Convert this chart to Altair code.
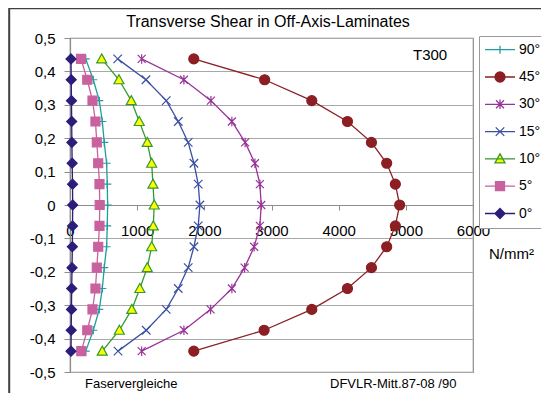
import altair as alt
import pandas as pd

# ---------------- data ----------------
y_levels = [0.4375, 0.375, 0.3125, 0.25, 0.1875, 0.125, 0.0625, 0.0,
            -0.0625, -0.125, -0.1875, -0.25, -0.3125, -0.375, -0.4375]

series_names = ["90°", "45°", "30°", "15°", "10°", "5°", "0°"]

s90 = [234, 347, 436, 481, 510, 545, 555, 560, 555, 545, 510, 481, 436, 347, 234]
s45 = [1843, 2898, 3600, 4131, 4488, 4715, 4844, 4908, 4844, 4715, 4488, 4131, 3600, 2890, 1843]
s30 = [1067, 1696, 2098, 2410, 2608, 2753, 2827, 2847, 2827, 2742, 2600, 2410, 2093, 1696, 1067]
s15 = [710, 1131, 1433, 1612, 1760, 1845, 1909, 1934, 1909, 1845, 1760, 1612, 1433, 1135, 715]
s10 = [472, 729, 912, 1031, 1150, 1216, 1235, 1254, 1240, 1216, 1150, 1040, 920, 735, 480]
s5 = [164, 257, 335, 379, 399, 420, 439, 442, 439, 420, 399, 379, 335, 257, 168]
s0 = [15, 18, 22, 25, 28, 32, 38, 40, 38, 35, 30, 25, 22, 18, 15]

series_values = [s90, s45, s30, s15, s10, s5, s0]

x_ticks = [0, 1000, 2000, 3000, 4000, 5000, 6000]
y_ticks = [-0.5, -0.4, -0.3, -0.2, -0.1, 0.0, 0.1, 0.2, 0.3, 0.4, 0.5]

# ---------------- styles ----------------
line_colors = ["#1e9e9e", "#8b1f24", "#993399", "#3a4fa3", "#339933", "#c9619f", "#2b1d7a"]
fill_colors = ["transparent", "#8b1f24", "transparent", "transparent", "#ffff00", "#c9619f", "#2b1d7a"]

def poly_path(polys, k=1.0, prefix=""):
    out = prefix
    for pts, closed in polys:
        out += "M" + "L".join(f"{x * k:.3f},{y * k:.3f}" for x, y in pts)
        if closed:
            out += "Z"
    return out

def circle_path(r, prefix=""):
    return prefix + f"M{r:.3f},0A{r:.3f},{r:.3f},0,1,1,{-r:.3f},0A{r:.3f},{r:.3f},0,1,1,{r:.3f},0Z"

marker_defs = [
    ("poly", [([(-0.8, 0), (0.8, 0)], False), ([(0, -0.8), (0, 0.8)], False)]),       # plus
    ("circle", 1.0),                                                                    # circle
    ("poly", [([(-0.8, -0.8), (0.8, 0.8)], False), ([(-0.8, 0.8), (0.8, -0.8)], False),
              ([(0, -0.95), (0, 0.95)], False)]),                                      # asterisk
    ("poly", [([(-0.85, -0.85), (0.85, 0.85)], False), ([(-0.85, 0.85), (0.85, -0.85)], False)]),  # x
    ("poly", [([(0, -1.0), (1.0, 0.8), (-1.0, 0.8)], True)]),                           # triangle
    ("poly", [([(-0.9, -0.9), (0.9, -0.9), (0.9, 0.9), (-0.9, 0.9)], True)]),           # square
    ("poly", [([(0, -1.0), (1.0, 0), (0, 1.0), (-1.0, 0)], True)]),                     # diamond
]

MARKER_SIZE = 100          # unit = 5 px
LEGEND_SIZE = 900          # unit = 15 px
k_leg = 5.0 / 15.0

plot_shapes, legend_shapes = [], []
for kind, spec in marker_defs:
    if kind == "circle":
        plot_shapes.append(circle_path(spec))
        legend_shapes.append(circle_path(spec * k_leg, prefix="M-1,0L1,0"))
    else:
        plot_shapes.append(poly_path(spec))
        legend_shapes.append(poly_path(spec, k_leg, prefix="M-1,0L1,0"))

# ---------------- table ----------------
rows = []
for name, vals in zip(series_names, series_values):
    for i, (v, yv) in enumerate(zip(vals, y_levels)):
        rows.append({"series": name, "x": v, "y": yv, "idx": i})
df = pd.DataFrame(rows)

FONT = "Liberation Sans"
W, H = 403, 334

x_enc = alt.X("x:Q", scale=alt.Scale(domain=[0, 6000], nice=False, zero=False),
              axis=alt.Axis(values=x_ticks, format="d", offset=-H / 2, tickSize=5,
                            labelPadding=13, grid=False, labelFlush=False, labelOverlap=False,
                            title="N/mm²", titleX=441, titleY=48, titleFontSize=15,
                            titleFontWeight="normal", titleAlign="center",
                            titleBaseline="middle", titleFont=FONT, titleColor="black"))
y_enc = alt.Y("y:Q", scale=alt.Scale(domain=[-0.5, 0.5], nice=False, zero=False),
              axis=alt.Axis(values=y_ticks, tickSize=6, labelPadding=9, grid=True, title=None,
                            labelExpr="replace(replace(format(datum.value, '.1~f'), '.', ','), '\u2212', '-')"))

base = alt.Chart(df)

lines = base.mark_line(strokeWidth=1.3).encode(
    x=x_enc, y=y_enc,
    stroke=alt.Stroke("series:N", scale=alt.Scale(domain=series_names, range=line_colors), legend=None),
    detail="series:N",
    order="idx:Q",
)

points = base.mark_point(size=MARKER_SIZE, opacity=1, strokeWidth=1.2).encode(
    x=x_enc, y=y_enc,
    shape=alt.Shape("series:N", scale=alt.Scale(domain=series_names, range=plot_shapes), legend=None),
    fill=alt.Fill("series:N", scale=alt.Scale(domain=series_names, range=fill_colors), legend=None),
    stroke=alt.Stroke("series:N", scale=alt.Scale(domain=series_names, range=line_colors), legend=None),
)

leg = alt.Legend(orient="none", legendX=409, legendY=-2, title=None,
                 symbolSize=LEGEND_SIZE, symbolStrokeWidth=1.3,
                 labelFont=FONT, labelFontSize=14, labelColor="black", labelOffset=3,
                 padding=5, rowPadding=9.3, clipHeight=17.4,
                 strokeColor="#9a9a9a", fillColor="white")

legend_layer = base.transform_filter("false").mark_point(size=MARKER_SIZE, opacity=1, strokeWidth=1.3).encode(
    x=x_enc, y=y_enc,
    shape=alt.Shape("series:N", scale=alt.Scale(domain=series_names, range=legend_shapes), legend=leg),
    fill=alt.Fill("series:N", scale=alt.Scale(domain=series_names, range=fill_colors), legend=leg),
    stroke=alt.Stroke("series:N", scale=alt.Scale(domain=series_names, range=line_colors), legend=leg),
)

one = alt.Data(values=[{"a": 1}])

frame = alt.Chart(one).mark_rect(fill="transparent", stroke="#404040", strokeWidth=2).encode(
    x=alt.value(-60.8), x2=alt.value(700), y=alt.value(-29.7), y2=alt.value(600)
)

title = alt.Chart(one).mark_text(text="Transverse Shear in Off-Axis-Laminates", font=FONT,
                                 fontSize=16, color="black", align="center",
                                 baseline="alphabetic").encode(
    x=alt.value(198), y=alt.value(-11))

t300 = alt.Chart(one).mark_text(text="T300", font=FONT, fontSize=15, color="black",
                                align="left", baseline="middle").encode(
    x=alt.value(343), y=alt.value(17))

foot1 = alt.Chart(one).mark_text(text="Faservergleiche", font=FONT, fontSize=13, color="black",
                                 align="left", baseline="middle").encode(
    x=alt.value(15), y=alt.value(346))

foot2 = alt.Chart(one).mark_text(text="DFVLR-Mitt.87-08 /90", font=FONT, fontSize=13, color="black",
                                 align="left", baseline="middle").encode(
    x=alt.value(260), y=alt.value(346))

chart = alt.layer(lines, points, legend_layer, frame, title, t300, foot1, foot2).resolve_scale(
    shape="independent", fill="independent", stroke="independent"
).properties(
    width=W, height=H,
    autosize=alt.AutoSizeParams(type="none"),
    padding={"left": 62, "top": 30, "right": 68, "bottom": 21},
).configure_view(
    stroke="#8c8c8c", strokeWidth=1.2
).configure_axis(
    labelFont=FONT, labelFontSize=15, labelColor="black",
    domainColor="#8c8c8c", tickColor="#8c8c8c", gridColor="#a8a8a8",
    domainWidth=1.2, tickWidth=1, gridWidth=1,
)

chart.save("out.html", embed_options={"renderer": "svg", "actions": False})
